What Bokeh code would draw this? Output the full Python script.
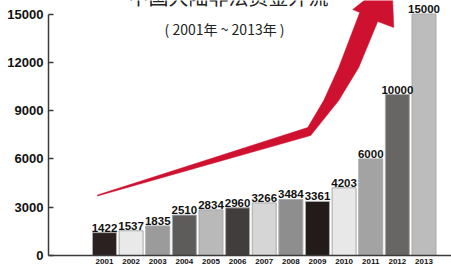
from bokeh.plotting import figure
from bokeh.models import Range1d, FixedTicker, ColumnDataSource
from bokeh.core.properties import value
from bokeh.embed import file_html
from bokeh.resources import INLINE

# ---- data ----
years = [2001, 2002, 2003, 2004, 2005, 2006, 2007, 2008, 2009, 2010, 2011, 2012, 2013]
outflow = [1422, 1537, 1835, 2510, 2834, 2960, 3266, 3484, 3361, 4203, 6000, 10000, 15000]
bar_colors = ["#2b2120", "#e9e9e9", "#9b9b9b", "#5e5b5b", "#b9b9b9", "#403d3c", "#d6d6d6",
              "#8e8e8e", "#231a1a", "#e8e8e8", "#a3a3a3", "#686565", "#bcbcbc"]
y_ticks = [0, 3000, 6000, 9000, 12000, 15000]
title_text = "中国大陆非法资金外流"
subtitle_text = "( 2001年 ~ 2013年 )"

# decorative trend arrow outline (year, value)
arrow_x = [2000.737, 2008.632, 2009.233, 2009.797, 2010.586, 2010.323, 2011.789,
           2011.865, 2011.263, 2010.549, 2009.797, 2008.744, 2000.737]
arrow_y = [3757, 7949, 9626, 11675, 15090, 15277, 17202,
           14159, 14531, 11675, 9626, 7452, 3695]

FONT = "Liberation Sans"

p = figure(width=451, height=267,
           x_range=Range1d(1998.897, 2014.033), y_range=Range1d(0, 15839),
           min_border_left=48, min_border_right=0, min_border_top=0, min_border_bottom=12,
           output_backend="svg", toolbar_location=None)
p.outline_line_color = None
p.xgrid.visible = False
p.ygrid.visible = False
p.background_fill_color = "white"
p.border_fill_color = "white"

# axes
p.yaxis.ticker = FixedTicker(ticks=y_ticks)
p.yaxis.bounds = (0, 15000)
p.yaxis.major_tick_in = 5
p.yaxis.major_tick_out = 0
p.yaxis.minor_tick_line_color = None
p.yaxis.axis_line_color = "#3a3a3a"
p.yaxis.axis_line_width = 1.5
p.yaxis.major_tick_line_color = "#3a3a3a"
p.yaxis.major_tick_line_width = 1.5
p.yaxis.major_label_text_font = FONT
p.yaxis.major_label_text_font_style = "bold"
p.yaxis.major_label_text_font_size = "13px"
p.yaxis.major_label_text_color = "#111111"
p.yaxis.major_label_standoff = 5

p.xaxis.ticker = FixedTicker(ticks=years)
p.xaxis.major_tick_in = 0
p.xaxis.major_tick_out = 0
p.xaxis.minor_tick_line_color = None
p.xaxis.axis_line_color = "#3a3a3a"
p.xaxis.axis_line_width = 1.5
p.xaxis.major_label_text_font = FONT
p.xaxis.major_label_text_font_style = "bold"
p.xaxis.major_label_text_font_size = "8px"
p.xaxis.major_label_text_color = "#111111"
p.xaxis.major_label_standoff = 3

src = ColumnDataSource(dict(x=years, top=outflow, color=bar_colors,
                            label=[str(v) for v in outflow]))

# arrow (drawn behind the bars)
p.patch(arrow_x, arrow_y, fill_color="#cf1130", line_color="#cf1130", line_width=0.5)

p.vbar(x="x", top="top", bottom=0, width=0.9, fill_color="color",
       line_color="#a8a8a8", line_width=1, source=src)

p.text(x="x", y="top", text="label", source=src, text_align="center",
       text_baseline="bottom", y_offset=-1,
       text_font=value(FONT), text_font_style="bold", text_font_size="11.5px",
       text_color="#111111")

# titles
p.text(x=[2005.66], y=[15215], text=[title_text], text_align="center",
       text_baseline="bottom", text_font=value("Noto Sans CJK SC"),
       text_font_size="20px", text_color="#222222")
p.text(x=[2005.51], y=[14066], text=[subtitle_text], text_align="center",
       text_baseline="middle", text_font=value("Noto Sans CJK SC"),
       text_font_size="14px", text_color="#222222")

open("out.html", "w").write(file_html(p, INLINE))
